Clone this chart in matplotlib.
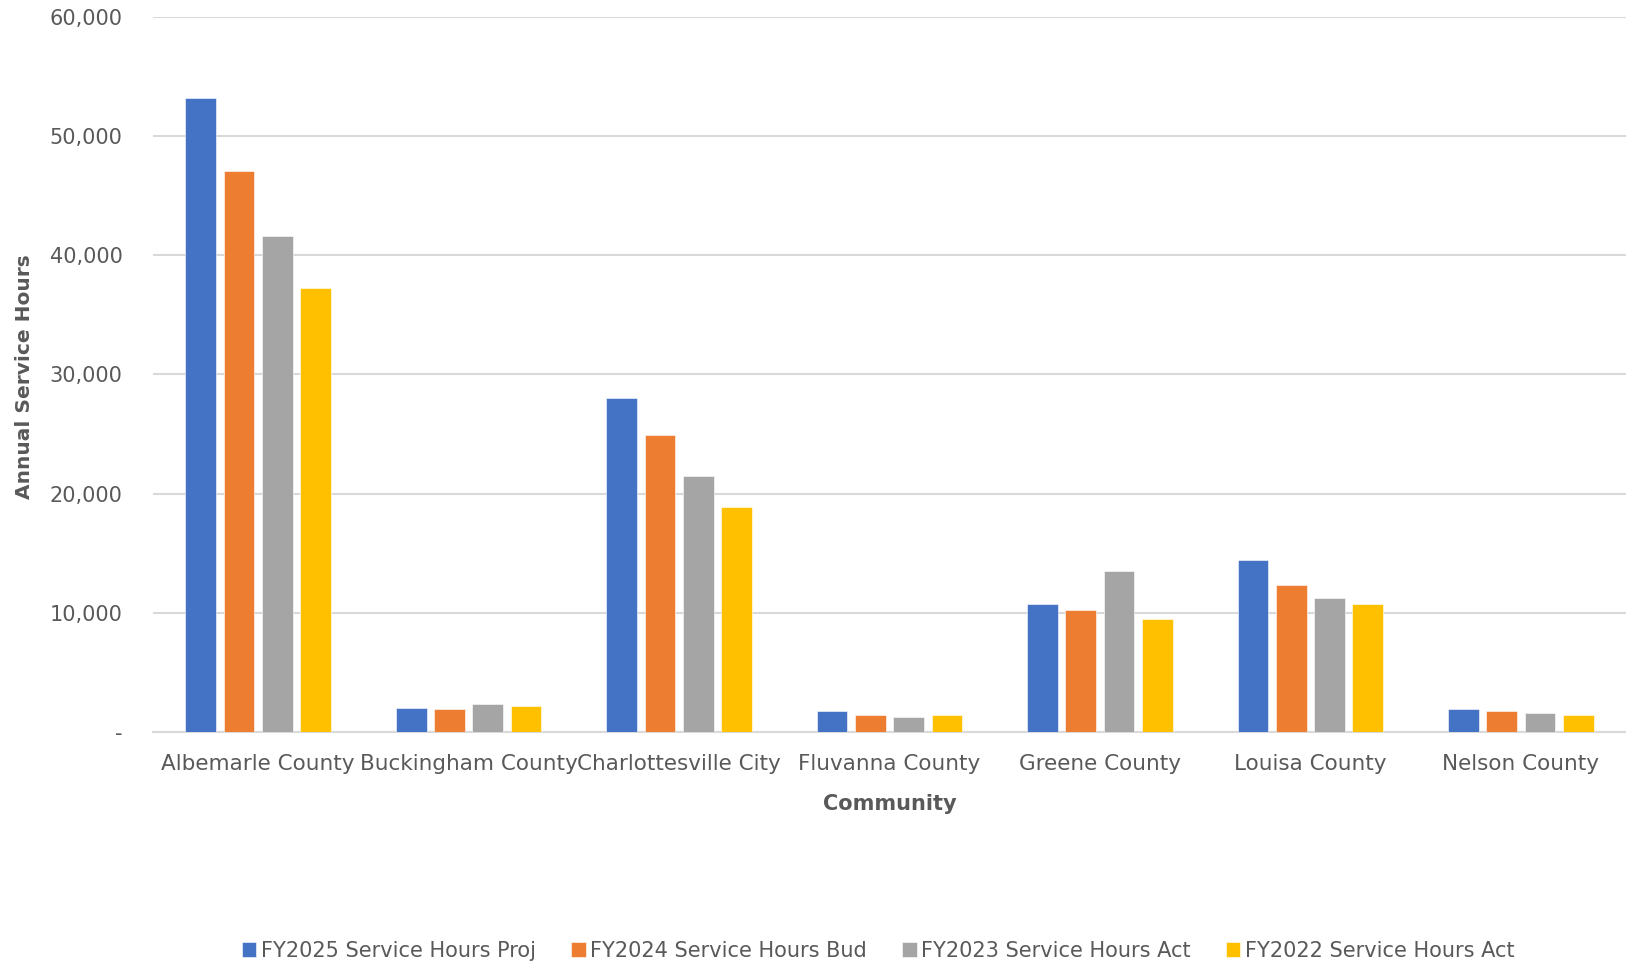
import matplotlib
matplotlib.use("Agg")
import matplotlib.pyplot as plt
import numpy as np
from matplotlib.ticker import FuncFormatter

communities = ["Albemarle County", "Buckingham County", "Charlottesville City",
               "Fluvanna County", "Greene County", "Louisa County", "Nelson County"]
fy2025_proj = [53200, 1990, 28000, 1790, 10750, 14400, 1960]
fy2024_bud = [47100, 1960, 24950, 1450, 10200, 12330, 1790]
fy2023_act = [41650, 2320, 21480, 1280, 13530, 11250, 1620]
fy2022_act = [37300, 2160, 18870, 1450, 9480, 10750, 1450]

series = [("FY2025 Service Hours Proj", fy2025_proj, "#4472c4"),
          ("FY2024 Service Hours Bud", fy2024_bud, "#ed7d31"),
          ("FY2023 Service Hours Act", fy2023_act, "#a5a5a5"),
          ("FY2022 Service Hours Act", fy2022_act, "#ffc000")]

txt = "#595959"
plt.rcParams["font.family"] = ["DejaVu Sans"]

fig = plt.figure(figsize=(16.26, 9.64), dpi=100)
ax = fig.add_axes([153/1626, 1-732/964, 1-153/1626, (732-17)/964])

x = np.arange(len(communities))
pitch = 0.182
width = 0.146
for i, (name, vals, col) in enumerate(series):
    ax.bar(x + (i-1.5)*pitch, vals, width, color=col, label=name,
           edgecolor="white", linewidth=0.4, zorder=3)

ax.set_xlim(-0.5, len(communities)-0.5)
ax.set_ylim(0, 60000)
ax.set_yticks(np.arange(0, 60001, 10000))
ax.yaxis.set_major_formatter(FuncFormatter(lambda v, p: "-" if v == 0 else f"{int(v):,}"))
ax.grid(axis="y", color="#d9d9d9", linewidth=1.5, zorder=0)
ax.set_axisbelow(True)
for s in ["top", "right", "left"]:
    ax.spines[s].set_visible(False)
ax.spines["bottom"].set_color("#d9d9d9")
ax.spines["bottom"].set_linewidth(1.5)
ax.tick_params(length=0, labelcolor=txt)
ax.tick_params(axis="y", pad=22, labelsize=15)
ax.tick_params(axis="x", pad=16, labelsize=15.5)
ax.set_xticks(x)
ax.set_xticklabels(communities)

ax.set_xlabel("Community", fontsize=15, fontweight="bold", color=txt, labelpad=14)
fig.text(25/1626, 1-377/964, "Annual Service Hours", rotation=90, fontsize=14.5,
         fontweight="bold", color=txt, ha="center", va="center")

fig.legend(loc="center", bbox_to_anchor=(878/1626, 1-951/964), ncol=4, frameon=False,
           fontsize=15, labelcolor=txt, handlelength=0.7, handleheight=0.7,
           handletextpad=0.2, columnspacing=1.7)

fig.savefig("out.png", dpi=100)
